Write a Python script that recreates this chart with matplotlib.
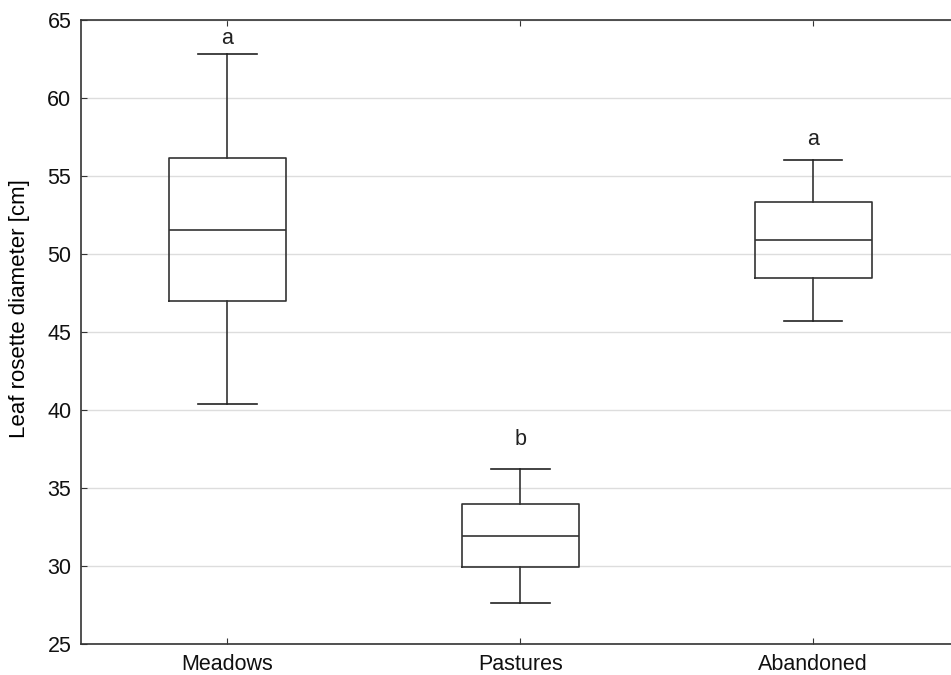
import matplotlib.pyplot as plt

plt.rcParams['font.family'] = ['Liberation Sans', 'DejaVu Sans']

groups = ["Meadows", "Pastures", "Abandoned"]
whisker_low = [40.4, 27.6, 45.7]
q1 = [47.0, 29.95, 48.45]
median = [51.55, 31.9, 50.9]
q3 = [56.15, 34.0, 53.35]
whisker_high = [62.8, 36.25, 56.05]
letters = ["a", "b", "a"]
letter_y = [63.15, 37.45, 56.65]

stats = [
    dict(label=g, whislo=lo, q1=a, med=m, q3=b, whishi=hi, fliers=[])
    for g, lo, a, m, b, hi in zip(groups, whisker_low, q1, median, q3, whisker_high)
]

fs = 15.5
fig = plt.figure(figsize=(9.51, 6.75), dpi=100)
ax = fig.add_axes([81 / 951, 31 / 675, (959.5 - 81) / 951, 624 / 675])

line = dict(color="#333333", linewidth=1.2)
ax.bxp(stats, positions=[1, 2, 3], widths=0.4, showfliers=False,
       boxprops=line, whiskerprops=line, capprops=dict(color="#222222", linewidth=1.2),
       medianprops=line, capwidths=0.2)

for x, (t, y) in enumerate(zip(letters, letter_y), start=1):
    ax.text(x, y, t, ha="center", va="bottom", fontsize=fs, color="#222222")

ax.set_xlim(0.5, 3.5)
ax.set_ylim(25, 65)
ax.set_yticks(range(25, 66, 5))
ax.yaxis.grid(True, color="#dddddd", linewidth=1)
ax.set_axisbelow(True)
ax.set_ylabel("Leaf rosette diameter [cm]", fontsize=16)
ax.yaxis.set_label_coords(-0.058, 0.537)
ax.tick_params(direction="in", length=4, labelsize=fs, top=True, colors="#333333",
               labelcolor="#111111")
ax.tick_params(axis="y", pad=7)
ax.tick_params(axis="x", pad=7)
for side in ax.spines.values():
    side.set_color("#333333")
    side.set_linewidth(1.2)

fig.savefig("out.png", dpi=100)
